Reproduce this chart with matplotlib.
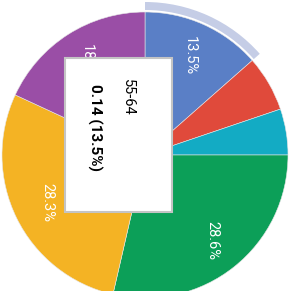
import matplotlib.pyplot as plt
from matplotlib.patches import Wedge, Rectangle

# age groups, clockwise from 12 o'clock
groups = ['55-64', '65+', '18-24', '25-34', '35-44', '45-54']
shares = [13.5, 6.3, 5.2, 28.6, 28.3, 18.1]
values = [0.14, 0.06, 0.05, 0.29, 0.28, 0.18]
colors = ['#5a7fc6', '#e04a3b', '#13abc4', '#0c9f58', '#f4b324', '#9a4ea6']

hover = 0

plt.rcParams['font.family'] = ['Roboto', 'DejaVu Sans']

fig = plt.figure(figsize=(2.91, 2.91), dpi=100)
ax = fig.add_axes([0, 0, 1, 1])

cx, cy, r = 145, 136, 143


def pct(p):
    return '{:.1f}%'.format(p) if p > 10 else ''


wedges, texts, autotexts = ax.pie(shares, colors=colors, startangle=90, counterclock=False,
                                  center=(cx, cy), radius=r, autopct=pct, pctdistance=0.76,
                                  wedgeprops=dict(edgecolor='#e6e6e6', linewidth=0.4),
                                  textprops=dict(color='white', fontsize=10.5))
for t in autotexts:
    t.set_rotation(-90)
    t.set_ha('center')
    t.set_va('center')
    t.set_rotation_mode('anchor')

# hover highlight ring on the selected slice
start = 90 - sum(shares[:hover]) * 3.6
end = start - shares[hover] * 3.6
ax.add_patch(Wedge((cx, cy), r + 10, end, start, width=8, facecolor='#c5cde6', edgecolor='none'))

# tooltip
ax.add_patch(Rectangle((65, 79), 107, 154, facecolor='white', edgecolor='#c4c4c4', linewidth=1.5, zorder=5))
ax.text(128, 194, groups[hover], rotation=-90, ha='center', va='center', fontsize=10.5,
        color='black', zorder=6)
ax.text(95, 164, '{:.2f} ({:.1f}%)'.format(values[hover], shares[hover]), rotation=-90,
        ha='center', va='center', fontsize=11, fontweight='bold', color='black', zorder=6)

ax.set_xlim(0, 291)
ax.set_ylim(0, 291)
ax.set_aspect('equal')
ax.axis('off')

fig.savefig('out.png', dpi=100)
